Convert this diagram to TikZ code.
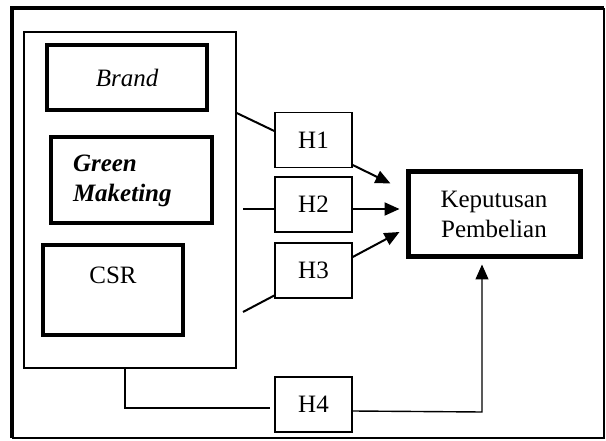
\documentclass[tikz,border=0pt]{standalone}
\usepackage{fontspec}
\setmainfont{Liberation Serif}
\usetikzlibrary{arrows.meta,calc}
\begin{document}
\begin{tikzpicture}[x=1pt,y=-1pt,
  every node/.style={font=\fontsize{25}{30}\selectfont},
  thickbox/.style={draw,line width=4pt,inner sep=0pt},
  hbox/.style={draw,line width=1.4pt,minimum width=77pt,minimum height=55pt,inner sep=0pt},
  conn/.style={line width=2pt},
  arr/.style={line width=2pt,-{Triangle[length=15pt,width=13pt]}},
  thin/.style={line width=1.4pt}]
\useasboundingbox (0,0) rectangle (606,441);
% outer frame
\draw[line width=1.4pt] (12,438) -- (604,438) -- (604,8);
\draw[line width=4pt] (12,438) -- (12,8) -- (604,8);
% inner container
\node[draw,line width=1.4pt,minimum width=212pt,minimum height=336pt,inner sep=0pt] (inner) at (130,200) {};
\node[thickbox,minimum width=160pt,minimum height=65pt] (brand) at (127,77.5) {\itshape Brand};
\node[thickbox,inner xsep=22pt,text width=117pt,align=left,minimum height=86pt] (green) at (131.5,180.5) {\bfseries\itshape Green\\Maketing};
\node[thickbox,minimum width=140pt,text height=38pt,text depth=51pt] (csr) at (113,290) {CSR};
% hypothesis boxes
\node[hbox] (H1) at (313.5,140) {H1};
\node[hbox] (H2) at (313.5,204.5) {H2};
\node[hbox] (H3) at (313.5,270.5) {H3};
\node[hbox] (H4) at (313.5,404.5) {H4};
% outcome
\node[draw,line width=5pt,minimum width=172pt,minimum height=85pt,align=center,inner sep=0pt] (kep) at (494,214.5) {Keputusan\\Pembelian};
% connector end points
\coordinate (s1) at ($(inner.east)+(0,-87)$);
\coordinate (t1) at ($(kep.west)+(-15,-31)$);
\coordinate (s2) at (243,209);
\coordinate (t2) at ($(kep.west)+(-6,-5.5)$);
\coordinate (s3) at (243,312);
\coordinate (t3) at ($(kep.west)+(-6,17.5)$);
\coordinate (c4) at (125,408);
\coordinate (d4) at (482,412);
% connectors
\draw[conn] (s1) -- ($(H1.west)+(0,-9)$);
\draw[arr] ($(H1.east)+(0,25)$) -- (t1);
\draw[conn] (s2) -- (H2.west |- s2);
\draw[arr] (H2.east |- s2) -- (t2);
\draw[conn] (s3) -- ($(H3.west)+(0,25)$);
\draw[arr] ($(H3.east)+(0,-13.5)$) -- (t3);
\draw[thin] (inner.south -| c4) -- (c4) -- ($(H4.west)+(-4,3.5)$);
\draw[thin,-{Triangle[length=15pt,width=13pt]}] ($(H4.east)+(0,6.5)$) -- (d4) -- ($(kep.south -| d4)+(0,5)$);
\end{tikzpicture}
\end{document}
